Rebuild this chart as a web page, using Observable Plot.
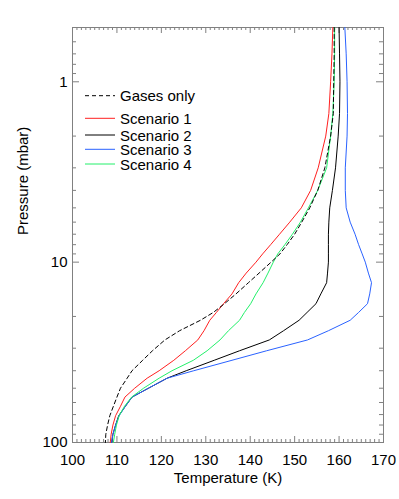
<!DOCTYPE html>
<html>
<head>
<meta charset="utf-8">
<script src="https://cdn.jsdelivr.net/npm/d3@7"></script>
<script src="https://cdn.jsdelivr.net/npm/@observablehq/plot@0.6"></script>
<style>
  body { margin: 0; background: #fff; font-family: "Liberation Sans", Arial, Helvetica, sans-serif; }
  #wrap { position: relative; width: 399px; height: 499px; }
  #legend { position: absolute; left: 0; top: 0; pointer-events: none; }
</style>
</head>
<body>
<div id="wrap"></div>
<script>
// Pressure levels (mbar)
const pressure = [0.5, 0.7, 1, 1.5, 2, 3, 4, 5, 6, 7, 8, 9, 10, 11.5, 13, 15, 17, 19, 21, 24, 27, 31, 35, 40, 44, 50, 56, 63, 71, 80, 90, 100];

// Temperature profiles (K)
const gasesOnly = [158.9, 158.9, 158.8, 158.7, 158.1, 156.8, 155.2, 153.4, 151.6, 150.0, 148.3, 146.7, 144.7, 142.0, 139.6, 136.8, 134.2, 131.7, 128.8, 124.1, 120.8, 118.0, 115.8, 113.4, 112.3, 110.8, 110.0, 109.2, 108.4, 107.9, 107.5, 107.4];
const scenario1 = [158.6, 158.4, 158.1, 157.7, 157.0, 155.3, 153.6, 151.5, 148.9, 146.6, 144.6, 142.8, 141.3, 139.1, 137.4, 135.9, 134.0, 132.4, 130.9, 129.6, 128.2, 125.4, 122.8, 119.5, 116.8, 114.0, 111.8, 110.8, 109.7, 109.1, 108.7, 108.5];
const scenario2 = [160.0, 160.1, 160.2, 160.1, 159.8, 159.2, 158.5, 157.9, 157.7, 157.6, 157.6, 157.6, 157.6, 157.4, 157.2, 155.9, 154.8, 152.8, 151.0, 147.5, 144.3, 137.6, 131.9, 125.6, 121.3, 117.1, 113.4, 111.9, 110.4, 109.7, 109.1, 108.8];
const scenario3 = [161.3, 161.6, 161.8, 161.9, 161.8, 161.4, 161.4, 161.6, 162.5, 163.6, 164.4, 165.2, 165.9, 166.6, 167.3, 166.9, 166.4, 164.4, 162.5, 157.6, 152.9, 143.7, 135.9, 127.3, 121.3, 117.1, 113.4, 111.9, 110.5, 109.7, 109.1, 108.8];
const scenario4 = [159.0, 159.0, 158.9, 158.6, 158.1, 157.2, 155.2, 153.1, 151.3, 149.5, 147.8, 146.2, 145.2, 144.0, 142.9, 141.3, 140.1, 138.7, 137.6, 135.1, 133.2, 130.3, 127.2, 122.4, 119.5, 116.0, 113.3, 111.7, 110.5, 109.9, 109.5, 109.2];

const seriesNames = ["Gases only", "Scenario 1", "Scenario 2", "Scenario 3", "Scenario 4"];
const seriesColors = ["#000000", "#ff2020", "#000000", "#2a62ff", "#22f06a"];
const seriesData = [gasesOnly, scenario1, scenario2, scenario3, scenario4];

// Axis ticks
const xTicks = [100, 110, 120, 130, 140, 150, 160, 170];
const xMinor = d3.range(100, 171, 1).filter(d => d % 10 !== 0);
const yTicks = [1, 10, 100];
const yMinor = [0.6, 0.7, 0.8, 0.9, 2, 3, 4, 5, 6, 7, 8, 9, 20, 30, 40, 50, 60, 70, 80, 90];

const rows = [];
seriesNames.forEach((name, s) => {
  pressure.forEach((p, i) => rows.push({series: name, P: p, T: seriesData[s][i]}));
});

const W = 399, H = 499;
const mL = 72, mR = 16, mT = 27, mB = 57;
const innerW = W - mL - mR, innerH = H - mT - mB;
const frameColor = "#808080";

const chart = Plot.plot({
  width: W,
  height: H,
  marginLeft: mL,
  marginRight: mR,
  marginTop: mT,
  marginBottom: mB,
  style: {fontFamily: "'Liberation Sans', Arial, Helvetica, sans-serif", fontSize: "15px", background: "#fff", color: "#000"},
  x: {domain: [100, 170]},
  y: {type: "log", domain: [0.5, 100], reverse: true},
  color: {domain: seriesNames, range: seriesColors},
  marks: [
    // inward tick marks (bottom / top)
    Plot.ruleX(xTicks, {x: d => d, insetTop: innerH - 6, stroke: frameColor}),
    Plot.ruleX(xMinor, {x: d => d, insetTop: innerH - 3, stroke: frameColor}),
    Plot.ruleX(xTicks, {x: d => d, insetBottom: innerH - 6, stroke: frameColor}),
    Plot.ruleX(xMinor, {x: d => d, insetBottom: innerH - 3, stroke: frameColor}),
    // inward tick marks (left / right)
    Plot.ruleY(yTicks, {y: d => d, insetRight: innerW - 7, stroke: frameColor}),
    Plot.ruleY(yMinor, {y: d => d, insetRight: innerW - 4, stroke: frameColor}),
    Plot.ruleY(yTicks, {y: d => d, insetLeft: innerW - 7, stroke: frameColor}),
    Plot.ruleY(yMinor, {y: d => d, insetLeft: innerW - 4, stroke: frameColor}),
    Plot.frame({stroke: frameColor}),
    Plot.axisX(xTicks, {tickSize: 0, tickPadding: 12, fontSize: 15, label: null}),
    Plot.axisY(yTicks, {tickSize: 0, tickPadding: 5, fontSize: 15, label: null, tickFormat: d => String(d)}),
    // profiles
    Plot.line(rows.filter(d => d.series !== "Gases only"), {x: "T", y: "P", z: "series", stroke: "series", strokeWidth: 1, curve: "linear"}),
    Plot.line(rows.filter(d => d.series === "Gases only"), {x: "T", y: "P", stroke: "#000", strokeWidth: 1, strokeDasharray: "4,3"}),
    // axis titles
    Plot.text(["Temperature (K)"], {frameAnchor: "bottom", dy: 36, fontSize: 15, text: d => d, lineAnchor: "middle"}),
    Plot.text(["Pressure (mbar)"], {frameAnchor: "left", dx: -49, rotate: -90, fontSize: 15, text: d => d, lineAnchor: "middle"})
  ]
});

const wrap = document.getElementById("wrap");
wrap.appendChild(chart);

// Legend overlay (inside plot area, top-left)
const legendY = [95.7, 118.3, 135, 149.3, 164];
const svgNS = "http://www.w3.org/2000/svg";
const lg = document.createElementNS(svgNS, "svg");
lg.setAttribute("id", "legend");
lg.setAttribute("width", W);
lg.setAttribute("height", H);
seriesNames.forEach((name, i) => {
  const line = document.createElementNS(svgNS, "line");
  line.setAttribute("x1", 85); line.setAttribute("x2", 115);
  line.setAttribute("y1", legendY[i]); line.setAttribute("y2", legendY[i]);
  line.setAttribute("stroke", seriesColors[i]);
  line.setAttribute("stroke-width", 1);
  if (i === 0) line.setAttribute("stroke-dasharray", "4,3");
  lg.appendChild(line);
  const t = document.createElementNS(svgNS, "text");
  t.setAttribute("x", 120);
  t.setAttribute("y", legendY[i]);
  t.setAttribute("dominant-baseline", "central");
  t.setAttribute("font-size", "15");
  t.setAttribute("font-family", "'Liberation Sans', Arial, Helvetica, sans-serif");
  t.setAttribute("fill", "#000");
  t.textContent = name;
  lg.appendChild(t);
});
wrap.appendChild(lg);
</script>
</body>
</html>
